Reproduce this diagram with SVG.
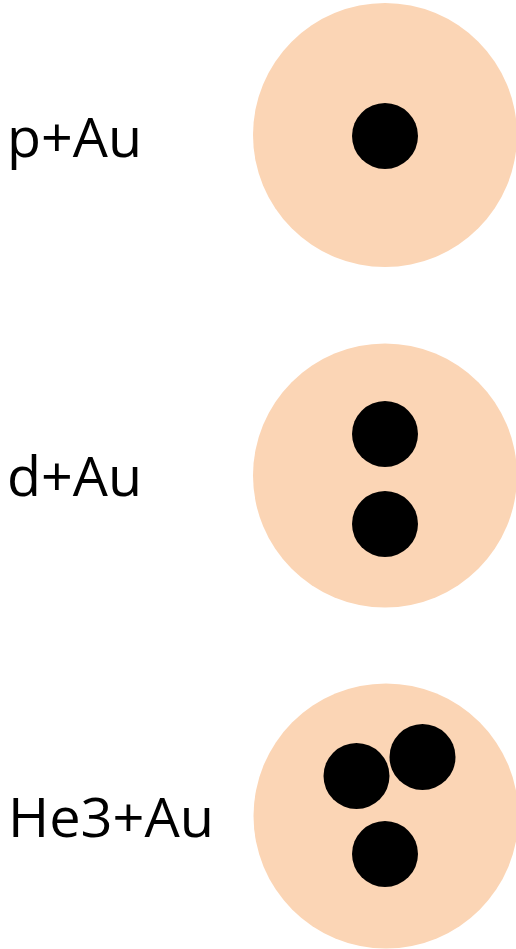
<svg xmlns="http://www.w3.org/2000/svg" width="516" height="949" viewBox="0 0 516 949">
<style>
.nuc{fill:#FBD5B5}
.n{fill:#000}
.lbl{font-family:"Open Sans","Liberation Sans",sans-serif;font-size:55px;fill:#000}
</style>
<rect width="516" height="949" fill="#fff"/>
<g id="pAu">
<text class="lbl" x="7" y="157" textLength="135" lengthAdjust="spacingAndGlyphs">p+Au</text>
<circle class="nuc" cx="385" cy="135" r="132"/>
<circle class="n" cx="385" cy="136" r="33"/>
</g>
<g id="dAu">
<text class="lbl" x="7" y="496" textLength="135" lengthAdjust="spacingAndGlyphs">d+Au</text>
<circle class="nuc" cx="385" cy="475.5" r="132"/>
<circle class="n" cx="385" cy="434" r="33"/>
<circle class="n" cx="385" cy="524" r="33"/>
</g>
<g id="He3Au">
<text class="lbl" x="8" y="836.5" textLength="206" lengthAdjust="spacingAndGlyphs">He3+Au</text>
<circle class="nuc" cx="386" cy="816" r="132.5"/>
<circle class="n" cx="356.5" cy="776" r="33"/>
<circle class="n" cx="422.5" cy="757" r="33"/>
<circle class="n" cx="385" cy="854" r="33"/>
</g>
<g id="connectors"/>
</svg>
